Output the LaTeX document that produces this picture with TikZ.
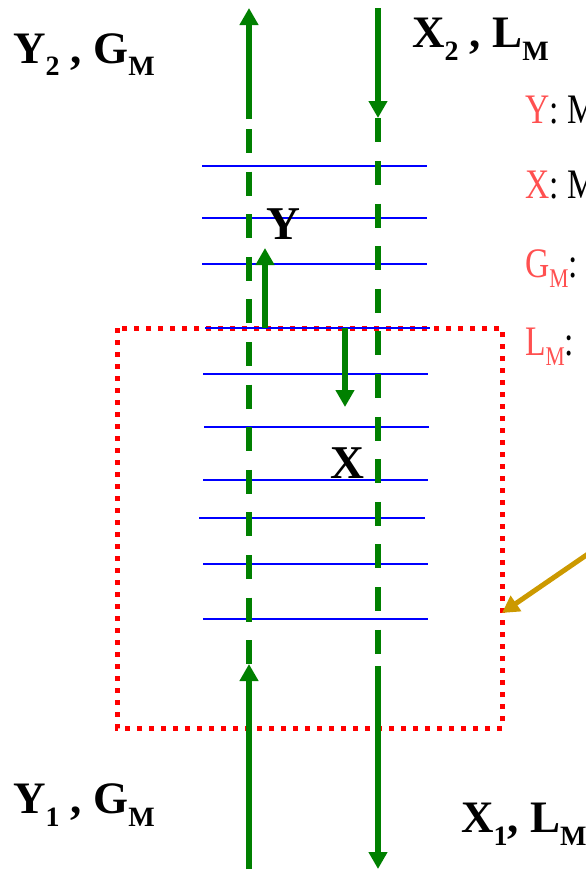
\documentclass[tikz,border=0pt]{standalone}
\usepackage{fontspec}
\setmainfont{Liberation Serif}
\usetikzlibrary{arrows.meta}
\definecolor{flow}{HTML}{008000}
\definecolor{plate}{HTML}{0000FF}
\definecolor{boxred}{HTML}{FF0000}
\definecolor{legred}{HTML}{FF5050}
\definecolor{pointer}{HTML}{CC9900}
\newcommand\bsub[1]{\raisebox{-13pt}{\fontsize{28}{28}\selectfont #1}}
\newcommand\lsub[1]{\raisebox{-10pt}{\fontsize{27}{27}\selectfont #1}}
\begin{document}
\begin{tikzpicture}[x=1pt,y=-1pt,
  flowline/.style={draw=flow,line width=6pt},
  flowarrow/.style={flowline,-{Triangle[width=18pt,length=17pt]}},
  flowdash/.style={flowline,dash pattern=on 23.9pt off 18.7pt},
  plateline/.style={draw=plate,line width=2.2pt},
  column/.style={draw=boxred,line width=5pt,dash pattern=on 5pt off 7pt},
  biglabel/.style={inner sep=0pt,anchor=base west,font=\fontsize{45}{50}\selectfont\bfseries},
  midlabel/.style={inner sep=0pt,anchor=base,font=\fontsize{47}{50}\selectfont\bfseries},
  legend/.style={inner sep=0pt,anchor=base west,font=\fontsize{42}{46}\selectfont}
]
\useasboundingbox (0,0) rectangle (586,870);

% column box
\draw[column] (117,328) rectangle (502,728);

% plates
\foreach \yy/\xa/\xb [count=\i] in {166/202/427,218/202/427,264/202/427,328/205/430,374/203/428,427/204/429,480/203/428,518/199/425,564/203/428,619/203/428}{
  \coordinate (pl\i) at (\xa,\yy);
  \coordinate (pr\i) at (\xb,\yy);
  \draw[plateline] (pl\i) -- (pr\i);
}

% gas stream (left)
\coordinate (g0) at (249,8);
\coordinate (g1) at (249,119);
\coordinate (g2) at (249,129);
\coordinate (g3) at (249,664);
\coordinate (g4) at (249,869);
\draw[flowarrow] (g1) -- (g0);
\draw[flowdash] (g2) -- (g3);
\draw[flowarrow] (g4) -- (g3);

% liquid stream (right)
\coordinate (l0) at (378,8);
\coordinate (l1) at (378,118);
\coordinate (l2) at (378,142);
\coordinate (l3) at (378,161);
\coordinate (l4) at (378,653.5);
\coordinate (l5) at (378,666);
\coordinate (l6) at (378,869);
\draw[flowarrow] (l0) -- (l1);
\draw[flowline] (l1) -- (l2);
\draw[flowdash] (l3) -- (l4);
\draw[flowarrow] (l5) -- (l6);

% small transfer arrows
\coordinate (ya) at (265,328);
\coordinate (yb) at (265,248);
\coordinate (xa) at (345,328);
\coordinate (xb) at (345,407);
\draw[flowarrow] (ya) -- (yb);
\draw[flowarrow] (xa) -- (xb);

\node[midlabel] (ylab) at (283,239) {Y};
\node[midlabel] (xlab) at (347,478) {X};

% stream labels
\node[biglabel] (top left) at (13,63) {Y\bsub{2} , G\bsub{M}};
\node[biglabel] (top right) at (412,47) {X\bsub{2} , L\bsub{M}};
\node[biglabel] (bottom left) at (13,813) {Y\bsub{1} , G\bsub{M}};
\node[biglabel] (bottom right) at (461,832) {X\bsub{1}, L\bsub{M}};

\begin{scope}
\clip (0,0) rectangle (586,870);
\node[legend] (leg y) at (525,123) {\scalebox{0.8}[1]{\textcolor{legred}{Y}: M}};
\node[legend] (leg x) at (525,198) {\scalebox{0.8}[1]{\textcolor{legred}{X}: M}};
\node[legend] (leg g) at (525,277) {\scalebox{0.8}[1]{\textcolor{legred}{G\lsub{M}}:}};
\node[legend] (leg l) at (525,355) {\scalebox{0.8}[1]{\textcolor{legred}{L\lsub{M}}:}};
\coordinate (ptr start) at (620,532);
\coordinate (ptr end) at (502,613);
\draw[draw=pointer,line width=5pt,-{Triangle[width=18pt,length=17pt]}] (ptr start) -- (ptr end);
\end{scope}
\end{tikzpicture}
\end{document}
